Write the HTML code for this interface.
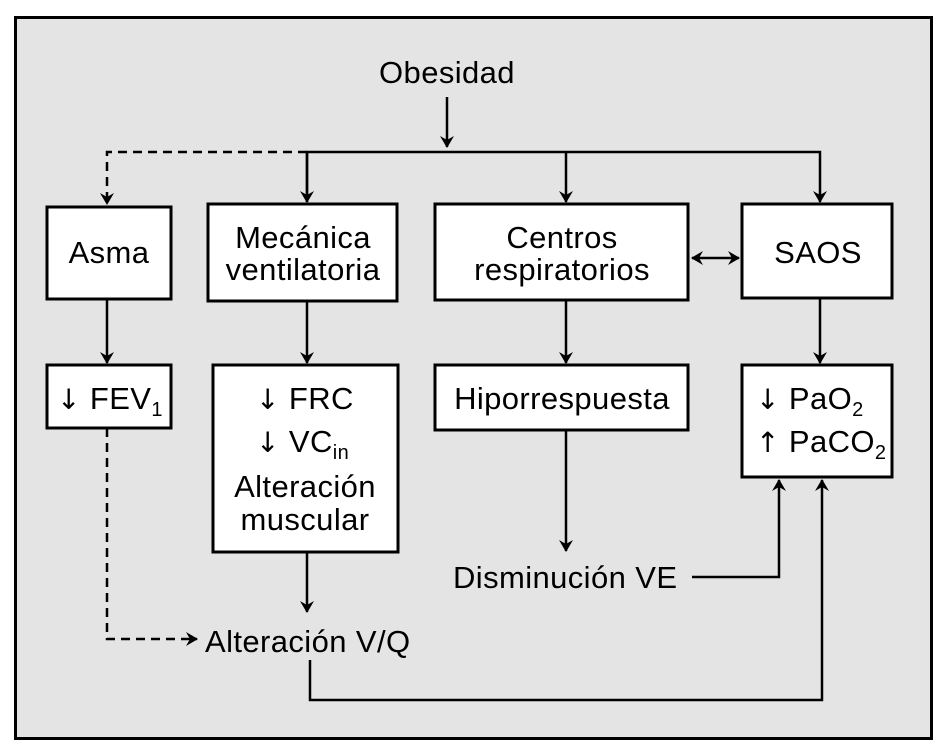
<!DOCTYPE html>
<html><head><meta charset="utf-8"><style>
body{margin:0;background:#fff}
svg text{font-family:"Liberation Sans",Arial,sans-serif;font-size:31px;letter-spacing:0.4px;fill:#000}
.ar{font-family:"DejaVu Sans",sans-serif;font-size:28px}
</style></head><body>
<svg width="948" height="750" xmlns="http://www.w3.org/2000/svg">
<defs><marker id="a" markerWidth="12" markerHeight="14" refX="11" refY="7" orient="auto" markerUnits="userSpaceOnUse"><path d="M0,0 L12,7 L0,14 L4,7 Z" fill="#000"/></marker>
<marker id="s" markerWidth="12" markerHeight="14" refX="1" refY="7" orient="auto" markerUnits="userSpaceOnUse"><path d="M12,0 L0,7 L12,14 L8,7 Z" fill="#000"/></marker></defs>
<rect x="15.5" y="17.5" width="916" height="721" fill="#e4e4e4" stroke="#000" stroke-width="3"/>
<g fill="#fff" stroke="#000" stroke-width="3">
<rect x="47" y="207" width="124" height="92"/>
<rect x="208" y="204" width="189" height="97"/>
<rect x="435" y="204" width="253" height="96"/>
<rect x="742" y="204" width="150" height="94"/>
<rect x="47" y="365" width="124" height="63"/>
<rect x="213" y="365" width="185" height="187"/>
<rect x="435" y="365" width="253" height="65"/>
<rect x="742" y="365" width="150" height="112"/>
</g>
<g stroke="#000" stroke-width="2.5" fill="none">
<line x1="447" y1="97" x2="447" y2="147" marker-end="url(#a)"/>
<polyline points="307,202 307,152 820,152 820,202" marker-end="url(#a)"/>
<line x1="307" y1="152" x2="307" y2="202" marker-end="url(#a)"/>
<line x1="566" y1="152" x2="566" y2="202" marker-end="url(#a)"/>
<polyline points="307,152 107,152 107,204" stroke-dasharray="9,6" marker-end="url(#a)"/>
<line x1="692" y1="258" x2="739" y2="258" marker-start="url(#s)" marker-end="url(#a)"/>
<line x1="107" y1="299" x2="107" y2="363" marker-end="url(#a)"/>
<line x1="307" y1="301" x2="307" y2="363" marker-end="url(#a)"/>
<line x1="566" y1="300" x2="566" y2="363" marker-end="url(#a)"/>
<line x1="820" y1="298" x2="820" y2="363" marker-end="url(#a)"/>
<line x1="566" y1="430" x2="566" y2="551" marker-end="url(#a)"/>
<polyline points="692,577 779,577 779,480" marker-end="url(#a)"/>
<line x1="307" y1="552" x2="307" y2="612" marker-end="url(#a)"/>
<polyline points="107,428 107,639 197,639" stroke-dasharray="9,6" marker-end="url(#a)"/>
<polyline points="310,660 310,700 822,700 822,480" marker-end="url(#a)"/>
</g>
<text x="447" y="83" text-anchor="middle">Obesidad</text>
<text x="109" y="263" text-anchor="middle">Asma</text>
<text x="303" y="248" text-anchor="middle">Mecánica</text>
<text x="303" y="280" text-anchor="middle">ventilatoria</text>
<text x="562" y="248" text-anchor="middle">Centros</text>
<text x="562" y="280" text-anchor="middle">respiratorios</text>
<text x="818" y="263" text-anchor="middle">SAOS</text>
<text x="57" y="409"><tspan class="ar">↓</tspan> FEV<tspan font-size="20" dy="7">1</tspan></text>
<text x="256" y="409"><tspan class="ar">↓</tspan> FRC</text>
<text x="256" y="452"><tspan class="ar">↓</tspan> VC<tspan font-size="20" dy="7">in</tspan></text>
<text x="305" y="497" text-anchor="middle">Alteración</text>
<text x="305" y="530" text-anchor="middle">muscular</text>
<text x="562" y="409" text-anchor="middle">Hiporrespuesta</text>
<text x="756" y="409"><tspan class="ar">↓</tspan> PaO<tspan font-size="20" dy="7">2</tspan></text>
<text x="756" y="452"><tspan class="ar">↑</tspan> PaCO<tspan font-size="20" dy="7">2</tspan></text>
<text x="453" y="588">Disminución VE</text>
<text x="205" y="652">Alteración V/Q</text>
</svg>
</body></html>
